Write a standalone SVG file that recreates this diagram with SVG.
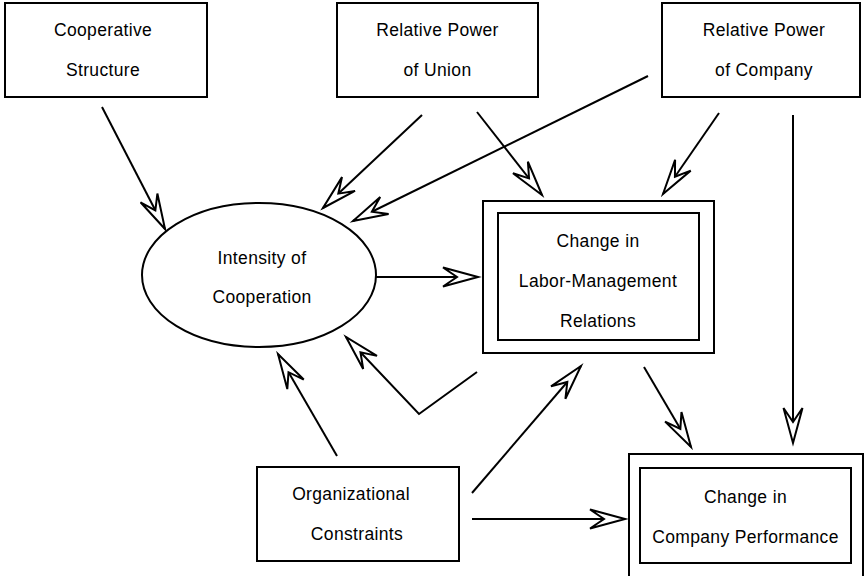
<svg xmlns="http://www.w3.org/2000/svg" width="864" height="576" viewBox="0 0 864 576">
<style>
.box{fill:#fff;stroke:#000;stroke-width:2}
.lbl{font-family:"Liberation Sans",Arial,Helvetica,sans-serif;font-size:17.5px;letter-spacing:0.35px;fill:#000;text-anchor:middle}
.edge{fill:none;stroke:#000;stroke-width:2;marker-end:url(#arr)}
</style>
<defs>
<marker id="arr" markerUnits="userSpaceOnUse" orient="auto" refX="0" refY="0" markerWidth="40" markerHeight="24" overflow="visible">
<path d="M0,0 L-35,-9.5 L-21,0 L-35,9.5 Z" fill="#fff" stroke="#000" stroke-width="2" stroke-linejoin="miter"/>
</marker>
</defs>
<rect width="864" height="576" fill="#fff"/>
<g id="connectors">
<path class="edge" d="M102,107 L165,229"/>
<path class="edge" d="M422,115 L323,208"/>
<path class="edge" d="M477,112 L542,195"/>
<path class="edge" d="M648,76 L353,221"/>
<path class="edge" d="M719,113 L663,194"/>
<path class="edge" d="M793,115 L793,443"/>
<path class="edge" d="M376,277 L478,277"/>
<path class="edge" d="M644,367 L691,447"/>
<path class="edge" d="M477,372 L419,414 L346,337"/>
<path class="edge" d="M337,456 L278,354"/>
<path class="edge" d="M472,493 L581,366"/>
<path class="edge" d="M472,519 L625,519"/>
</g>
<g id="cooperative-structure">
<rect class="box" x="5" y="3" width="202" height="94"/>
<text class="lbl" x="103" y="36">Cooperative</text>
<text class="lbl" x="103" y="76">Structure</text>
</g>
<g id="power-union">
<rect class="box" x="337" y="3" width="201" height="94"/>
<text class="lbl" x="437.5" y="36">Relative Power</text>
<text class="lbl" x="437.5" y="76">of Union</text>
</g>
<g id="power-company">
<rect class="box" x="662" y="3" width="198" height="94"/>
<text class="lbl" x="764" y="36">Relative Power</text>
<text class="lbl" x="764" y="76">of Company</text>
</g>
<g id="intensity-cooperation">
<ellipse cx="259" cy="275" rx="117" ry="72" fill="#fff" stroke="#000" stroke-width="2"/>
<text class="lbl" x="262" y="264">Intensity of</text>
<text class="lbl" x="262" y="303">Cooperation</text>
</g>
<g id="labor-management">
<rect class="box" x="483" y="201" width="231" height="152"/>
<rect class="box" x="498" y="213" width="201" height="127"/>
<text class="lbl" x="598" y="247">Change in</text>
<text class="lbl" x="598" y="287">Labor-Management</text>
<text class="lbl" x="598" y="327">Relations</text>
</g>
<g id="organizational-constraints">
<rect class="box" x="257" y="467" width="202" height="94"/>
<text class="lbl" x="351" y="500">Organizational</text>
<text class="lbl" x="357" y="540">Constraints</text>
</g>
<g id="company-performance">
<rect class="box" x="629" y="454" width="234" height="126"/>
<rect class="box" x="640" y="468" width="211" height="95"/>
<text class="lbl" x="745.5" y="503">Change in</text>
<text class="lbl" x="745.5" y="543">Company Performance</text>
</g>
</svg>
